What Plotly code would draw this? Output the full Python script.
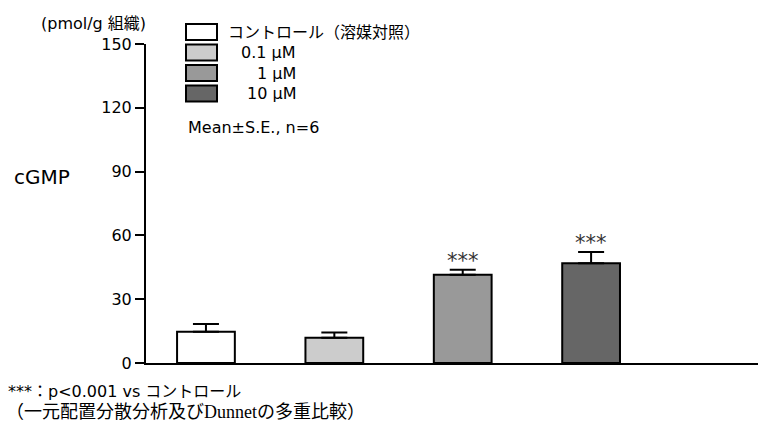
import plotly.graph_objects as go

# ---- data ----
categories = ["コントロール（溶媒対照）", "0.1μM", "1μM", "10μM"]
legend_labels = ["コントロール（溶媒対照）", "0.1 μM", "1 μM", "10 μM"]
means = [14.7, 11.9, 41.5, 46.9]
sems = [3.6, 2.4, 2.4, 5.3]
sig_labels = ["", "", "***", "***"]
bar_colors = ["#ffffff", "#cccccc", "#999999", "#666666"]
y_ticks = [0, 30, 60, 90, 120, 150]

# ---- layout geometry (pixels) ----
W, H = 759, 429
L, R, T, B = 146, 1, 44, 66
PW, PH = W - L - R, H - T - B


def px(x):
    return (x - L) / PW


def py(y):
    return (H - B - y) / PH


SANS = "DejaVu Sans, 'Noto Sans CJK JP', sans-serif"
SERIF = "'Liberation Serif', 'Noto Sans CJK JP', serif"

xs = list(range(len(categories)))

fig = go.Figure()
fig.add_trace(go.Bar(
    x=xs, y=means, width=0.45,
    marker=dict(color=bar_colors, line=dict(color="black", width=2)),
    error_y=dict(type="data", symmetric=False, array=sems,
                 arrayminus=[0] * len(sems), color="black",
                 thickness=2, width=13),
    showlegend=False,
))

annotations = []
# significance stars
for x, m, s, lab in zip(xs, means, sems, sig_labels):
    if lab:
        annotations.append(dict(x=x, y=m + s, xref="x", yref="y", text=lab,
                                showarrow=False, yanchor="bottom", yshift=-5,
                                font=dict(family=SANS, size=21, color="#333333")))

# custom legend: boxes + labels
box_x0, box_x1 = 186, 217
row_tops = [24, 44.5, 65, 85.5]
shapes = []
for i, (lab, col) in enumerate(zip(legend_labels, bar_colors)):
    y0 = row_tops[i]
    shapes.append(dict(type="rect", xref="paper", yref="paper",
                       x0=px(box_x0), x1=px(box_x1), y0=py(y0 + 16), y1=py(y0),
                       fillcolor=col, line=dict(color="black", width=2)))
    if i == 0:
        annotations.append(dict(x=px(226), y=py(y0 + 8), xref="paper", yref="paper",
                                text=lab, showarrow=False, xanchor="left", yanchor="middle",
                                font=dict(family=SANS, size=16, color="black")))
    else:
        annotations.append(dict(x=px(298), y=py(y0 + 8), xref="paper", yref="paper",
                                text=lab, showarrow=False, xanchor="right", yanchor="middle",
                                font=dict(family=SANS, size=16, color="black")))

annotations.append(dict(x=px(186), y=py(127), xref="paper", yref="paper",
                        text="Mean±S.E., n=6", showarrow=False, xanchor="left", yanchor="middle",
                        font=dict(family=SANS, size=16, color="black")))

# axis labels
annotations.append(dict(x=px(148), y=py(24), xref="paper", yref="paper",
                        text="(pmol/g 組織)", showarrow=False, xanchor="right", yanchor="middle",
                        font=dict(family=SANS, size=16, color="black")))
annotations.append(dict(x=px(42), y=py(177), xref="paper", yref="paper",
                        text="cGMP", showarrow=False, xanchor="center", yanchor="middle",
                        font=dict(family=SANS, size=20, color="black")))

# footnotes
annotations.append(dict(x=px(6), y=py(391), xref="paper", yref="paper",
                        text="***：p<0.001 vs コントロール", showarrow=False,
                        xanchor="left", yanchor="middle",
                        font=dict(family=SANS, size=16, color="black")))
annotations.append(dict(x=px(4), y=py(412), xref="paper", yref="paper",
                        text="（一元配置分散分析及びDunnetの多重比較）", showarrow=False,
                        xanchor="left", yanchor="middle",
                        font=dict(family=SERIF, size=18, color="black")))

fig.update_layout(
    width=W, height=H,
    margin=dict(l=L, r=R, t=T, b=B, pad=0),
    paper_bgcolor="white", plot_bgcolor="white",
    showlegend=False,
    xaxis=dict(range=[-0.467, 4.3], showline=True, linecolor="black", linewidth=2,
               showticklabels=False, ticks="", showgrid=False, zeroline=False),
    yaxis=dict(range=[0, 150], tickvals=y_ticks, showline=True, linecolor="black",
               linewidth=2, ticks="outside", ticklen=9, tickwidth=1.5, tickcolor="black",
               showgrid=False, zeroline=False,
               tickfont=dict(family=SANS, size=16, color="black")),
    shapes=shapes,
    annotations=annotations,
)

fig.write_html("out.html")
